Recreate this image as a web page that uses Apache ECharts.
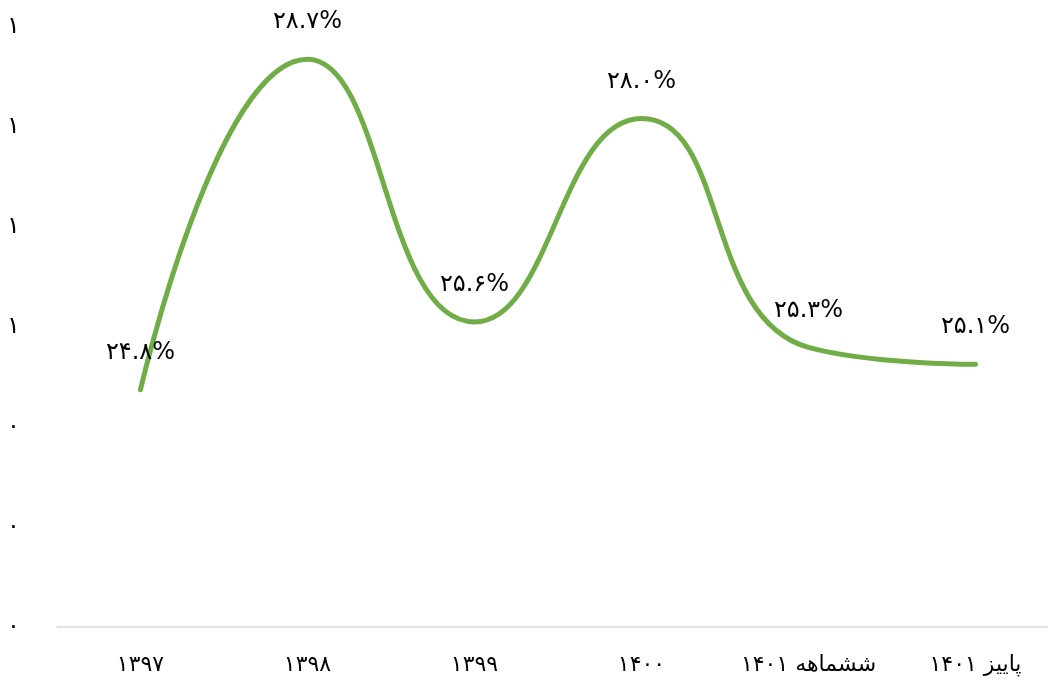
<!DOCTYPE html>
<html>
<head>
<meta charset="utf-8">
<style>
  html, body { margin: 0; padding: 0; background: #fff; }
  #chart { width: 1048px; height: 685px; }
</style>
<script src="https://cdn.jsdelivr.net/npm/echarts@6/dist/echarts.min.js"></script>
</head>
<body>
<div id="chart"></div>
<script>
// Periods on the horizontal axis
const categories = ['۱۳۹۷', '۱۳۹۸', '۱۳۹۹', '۱۴۰۰', 'ششماهه ۱۴۰۱', 'پاییز ۱۴۰۱'];
// Share (percent) for each period
const shareValues = [24.8, 28.7, 25.6, 28.0, 25.3, 25.1];
// Labels of the left axis, bottom to top
const yTickLabels = ['۰', '۰', '۰', '۱', '۱', '۱', '۱'];

const persianDigits = '۰۱۲۳۴۵۶۷۸۹';
function toPersian(str) {
  return String(str).replace(/[0-9]/g, d => persianDigits[+d]);
}

const FONT = "'DejaVu Sans', sans-serif";
const chart = echarts.init(document.getElementById('chart'), null, { renderer: 'canvas' });

chart.setOption({
  backgroundColor: '#ffffff',
  animation: false,
  // plot area runs a little past the right edge of the canvas
  grid: { left: 57, width: 1002, top: 27, bottom: 58, containLabel: false, outerBoundsMode: 'none' },
  xAxis: {
    type: 'category',
    data: categories,
    boundaryGap: true,
    axisLine: { lineStyle: { color: '#d9d9d9', width: 1.5 } },
    axisTick: { show: false },
    axisLabel: { color: '#000', fontFamily: FONT, fontSize: 22, margin: 27, interval: 0, hideOverlap: false }
  },
  yAxis: [
    {
      type: 'value',
      min: 0,
      max: 1.2,
      interval: 0.2,
      axisLine: { show: false },
      axisTick: { show: false },
      splitLine: { show: false },
      axisLabel: {
        color: '#000', fontFamily: FONT, fontSize: 24, margin: 37,
        formatter: (v, i) => yTickLabels[i]
      }
    },
    {
      type: 'value',
      min: 22.0,
      max: 29.08,
      show: false,
      splitLine: { show: false }
    }
  ],
  series: [{
    type: 'line',
    yAxisIndex: 1,
    data: shareValues,
    smooth: 0.5,
    symbol: 'circle',
    symbolSize: 0.1,
    itemStyle: { color: 'rgba(0,0,0,0)' },
    lineStyle: { color: '#70AD47', width: 5, cap: 'round' },
    label: {
      show: true,
      position: 'top',
      distance: 25,
      color: '#000',
      fontFamily: FONT,
      fontSize: 24,
      formatter: p => toPersian(p.value.toFixed(1)) + '%'
    }
  }]
});
</script>
</body>
</html>
